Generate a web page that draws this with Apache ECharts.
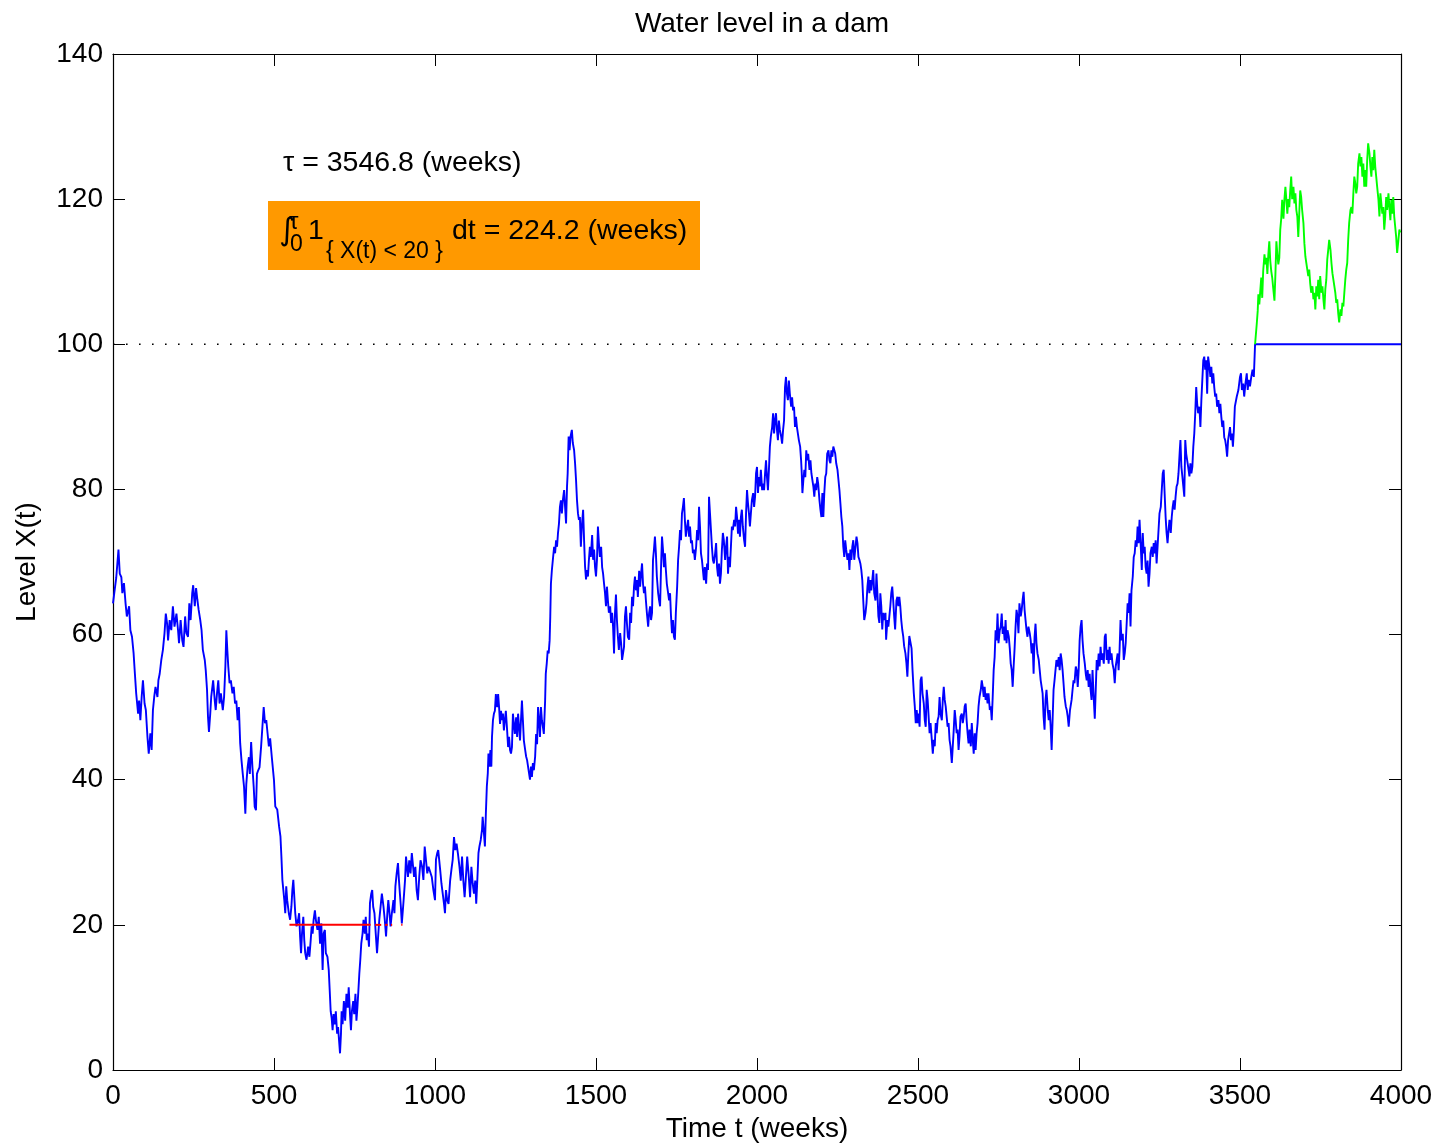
<!DOCTYPE html>
<html>
<head>
<meta charset="utf-8">
<script src="https://cdn.jsdelivr.net/npm/echarts@6/dist/echarts.min.js"></script>
<style>html,body{margin:0;padding:0;background:#fff}#c{width:1441px;height:1148px}</style>
</head>
<body>
<div id="c"></div>
<script>
// ---- data (time in weeks, level) ----
const xTicks = [0, 500, 1000, 1500, 2000, 2500, 3000, 3500, 4000];
const yTicks = [0, 20, 40, 60, 80, 100, 120, 140];
const tau = 3546.8;
const capacity = 100;
const lowLevel = 20;
const occupation = 224.2;
const redIntervals = [[548, 800], [814, 833], [845, 853], [863, 867], [895, 899]];

const walkA = [[0,64.3],[5,66.1],[10,67.8],[17,71.7],[21,68.4],[26,67.9],[29,65.7],[34,67.1],[39,64.3],[43,62.5],[50,63.9],[54,60.6],[59,59.7],[64,57.4],[68,54.6],[72,51.9],[78,49.1],[81,50.9],[85,48.2],[89,51.4],[93,53.7],[98,50.5],[102,49.6],[107,45.9],[111,43.6],[116,46.4],[120,44.1],[124,49.6],[128,51.4],[132,52.8],[138,51.4],[141,53.7],[145,54.6],[150,56.5],[155,57.9],[160,60.2],[164,62.9],[168,61.5],[171,59.2],[176,62.0],[181,60.6],[186,63.9],[191,61.1],[197,62.9],[202,60.6],[205,58.8],[210,62.0],[215,59.2],[219,58.3],[224,62.5],[228,60.2],[233,59.7],[237,64.3],[241,62.0],[246,65.7],[249,66.8],[254,63.9],[258,66.4],[262,64.8],[266,63.4],[271,62.0],[275,60.6],[279,57.9],[285,56.5],[288,55.1],[292,52.4],[295,48.7],[298,46.6],[302,49.1],[305,51.4],[311,53.7],[316,50.9],[319,49.6],[323,51.9],[327,53.7],[331,50.5],[335,51.9],[341,49.6],[345,51.4],[349,55.6],[352,60.6],[355,57.9],[358,55.6],[362,53.3],[366,53.7],[371,51.9],[375,52.8],[379,50.5],[383,50.9],[387,48.2],[391,50.0],[395,45.0],[399,42.7],[403,40.8],[407,39.0],[411,35.3],[414,39.4],[418,41.7],[422,43.1],[425,40.8],[429,45.2],[433,41.7],[437,39.0],[440,36.3],[444,35.8],[447,40.8],[451,41.3],[455,41.7],[460,44.6],[464,47.3],[468,50.0],[472,47.8],[476,48.2],[480,46.4],[484,44.6]];

const walkB = [[488,45.7],[493,43.2],[500,39.9],[504,36.3],[510,35.9],[516,33.5],[520,32.2],[523,29.4],[526,26.2],[529,24.8],[532,23.4],[535,21.6],[538,25.3],[541,23.4],[546,21.6],[550,20.7],[554,22.5],[557,24.8],[560,26.2],[563,23.9],[566,21.6],[570,19.8],[575,20.7],[578,21.6],[581,18.4],[584,16.1],[587,18.8],[591,21.1],[594,17.9],[597,16.1],[601,15.2],[606,17.0],[610,15.6],[614,17.9],[617,19.8],[620,18.8],[623,20.7],[627,22.0],[630,20.7],[635,19.3],[639,21.1],[643,17.4],[647,20.2],[651,13.8],[654,18.8],[658,19.3],[661,16.1],[666,15.6],[670,13.8],[673,11.0],[676,8.1],[679,7.2],[682,5.5],[685,7.7],[689,6.3],[692,8.1],[696,5.0],[699,5.9],[702,4.1],[705,2.3],[708,5.0],[710,8.1],[713,6.3],[717,9.5],[721,6.8],[725,10.5],[729,8.6],[732,11.4],[736,7.7],[739,5.5],[742,8.1],[746,9.5],[749,7.7],[753,10.5],[756,6.8],[759,8.6],[762,10.9],[765,13.3],[768,15.2],[771,17.4],[775,18.8],[778,20.7],[782,18.8],[785,21.1],[788,17.9],[792,18.8],[795,17.0],[798,23.0],[802,24.3],[805,24.8],[808,22.5],[812,21.6],[816,18.8],[820,16.1],[824,18.8],[827,20.7],[831,22.5],[835,24.3],[840,22.5],[844,20.7],[848,18.4],[852,21.6],[855,23.4],[858,22.0],[862,19.8],[866,21.6],[871,23.4],[874,21.6],[877,25.3],[881,27.1],[885,28.5],[888,26.2],[891,24.3],[894,22.5],[897,20.2],[901,22.5],[904,24.3],[907,26.2],[910,29.4],[913,28.0],[916,26.6],[920,28.9],[924,27.1],[928,29.9],[932,28.0],[935,26.6],[939,28.0],[943,24.8],[947,23.4],[951,26.6],[955,28.9],[960,28.0],[964,26.2],[968,30.8],[972,28.9],[976,27.1],[980,28.0]];

const walkC = [[990,26.6],[995,24.8],[1000,23.4],[1003,29.0],[1007,29.9],[1010,30.3],[1016,27.6],[1020,25.7],[1024,24.3],[1028,22.9],[1031,21.6],[1034,24.8],[1038,23.4],[1042,22.9],[1047,26.1],[1051,27.6],[1055,29.0],[1059,32.1],[1063,30.3],[1067,31.2],[1071,29.9],[1076,28.0],[1080,26.1],[1084,29.4],[1088,26.1],[1092,23.8],[1096,26.6],[1100,29.4],[1105,26.6],[1109,23.8],[1113,28.0],[1117,25.7],[1121,24.3],[1125,26.1],[1128,22.9],[1131,25.7],[1135,29.9],[1138,30.8],[1142,31.7],[1146,33.1],[1148,34.9],[1152,32.6],[1155,30.8],[1158,35.4],[1161,39.1],[1164,40.9],[1166,43.6],[1169,41.8],[1172,44.1],[1175,41.8],[1177,45.9],[1180,48.2],[1183,49.1],[1186,49.5],[1189,51.8],[1193,50.0],[1196,51.8],[1199,50.0],[1202,47.7],[1205,49.5],[1208,48.2],[1211,49.1],[1214,46.8],[1217,48.2],[1220,49.5],[1224,46.8],[1227,44.5],[1230,45.9],[1233,44.1],[1236,43.6],[1239,44.5],[1242,49.1],[1245,47.7],[1248,46.3],[1252,48.6],[1255,45.9],[1258,49.1],[1261,47.3],[1264,45.4],[1267,48.2],[1270,50.9],[1273,48.2],[1276,45.4],[1280,44.1],[1283,43.2],[1286,42.7],[1289,41.8],[1292,40.9],[1295,40.0],[1298,41.8],[1301,40.4],[1304,42.3],[1307,41.3],[1311,43.2],[1314,46.3],[1317,44.9],[1320,50.0],[1323,48.2],[1326,45.9],[1329,50.0],[1332,48.2],[1335,47.3],[1338,46.3],[1342,50.9],[1344,54.6],[1347,56.0],[1350,57.8],[1353,57.4],[1356,59.2],[1358,62.5],[1360,67.0],[1363,68.9],[1366,70.3],[1370,72.1],[1373,71.2],[1376,73.0],[1379,72.1],[1382,74.0],[1385,75.3],[1388,77.6],[1391,78.5],[1394,76.7],[1397,78.5],[1401,79.9],[1404,77.6],[1407,75.3],[1410,80.4],[1412,82.2],[1415,87.3],[1418,85.4],[1421,87.3],[1425,88.2],[1428,86.4],[1432,85.4],[1435,83.6],[1438,81.3],[1441,78.5],[1444,76.7],[1447,75.8],[1450,76.2],[1453,72.1],[1456,74.9],[1460,77.2],[1463,73.0],[1466,69.4],[1469,67.6],[1472,68.9],[1475,68.0],[1478,70.3]];

const walkD = [[1481,72.1],[1484,70.7],[1488,73.7],[1491,70.3],[1494,71.7],[1497,69.3],[1500,68.0],[1503,70.3],[1506,74.9],[1509,72.6],[1512,70.7],[1516,72.1],[1519,69.3],[1522,68.4],[1525,67.0],[1528,65.7],[1531,63.9],[1534,66.6],[1537,64.7],[1540,63.0],[1544,63.9],[1547,61.6],[1550,63.0],[1553,61.1],[1556,57.4],[1559,63.0],[1562,65.5],[1565,62.0],[1568,59.7],[1571,57.9],[1575,60.2],[1578,58.8],[1581,56.5],[1584,56.5],[1587,58.3],[1590,62.5],[1593,63.9],[1596,61.6],[1599,59.7],[1603,59.3],[1606,63.0],[1609,61.6],[1612,65.2],[1615,63.9],[1618,66.6],[1621,68.0],[1624,66.1],[1627,67.5],[1630,65.2],[1634,68.8],[1637,66.6],[1640,68.4],[1643,69.8],[1646,67.0],[1649,65.7],[1652,66.6],[1655,64.7],[1658,63.0],[1662,61.1],[1665,63.0],[1668,63.9],[1671,62.0],[1674,63.0],[1677,70.3],[1680,71.7],[1683,73.5],[1686,71.2],[1689,68.0],[1693,65.7],[1696,64.7],[1699,63.9],[1702,69.3],[1705,73.5],[1708,71.7],[1711,69.3],[1714,71.2],[1717,68.9],[1720,67.0],[1724,65.7],[1727,64.7],[1730,65.7],[1733,62.5],[1736,60.2],[1739,62.0],[1742,59.7],[1745,59.3],[1748,63.0],[1752,66.6],[1755,70.3],[1758,72.1],[1761,74.4],[1764,73.0],[1767,76.7],[1770,77.6],[1773,78.8],[1776,75.8],[1779,73.5],[1783,74.9],[1786,75.8],[1789,73.5],[1792,74.9],[1795,72.6],[1798,73.0],[1801,71.2],[1804,71.7],[1807,70.3],[1811,72.1],[1814,74.4],[1817,73.0],[1820,77.6],[1823,74.9],[1826,71.2],[1829,70.3],[1832,68.9],[1835,67.5],[1838,69.3],[1842,67.0],[1845,69.8],[1848,68.9],[1851,79.0],[1854,76.7],[1857,74.4],[1860,72.1],[1863,70.3],[1866,69.8],[1870,71.2],[1873,72.6],[1876,69.3],[1879,68.0],[1882,69.8],[1885,67.0],[1888,68.4],[1891,71.7],[1894,74.0],[1897,73.0],[1901,70.3],[1904,72.1],[1907,73.5],[1910,68.4],[1913,70.7],[1916,69.3],[1919,72.1],[1922,74.9],[1925,74.4],[1929,75.8],[1932,74.9],[1935,77.6],[1938,76.2],[1941,73.9],[1944,75.8],[1947,73.5],[1950,76.2],[1953,77.2],[1956,74.9],[1960,73.0],[1963,72.1],[1966,76.7],[1969,79.9],[1972,78.1],[1975,76.7]];

const walkE = [[1978,74.9],[1981,76.7],[1984,78.5],[1988,79.5],[1991,77.6],[1994,79.0],[1997,82.2],[2000,83.1],[2003,79.5],[2006,81.7],[2009,80.4],[2012,82.7],[2016,79.9],[2019,80.8],[2022,79.9],[2025,82.2],[2028,84.0],[2031,81.7],[2034,79.9],[2037,82.7],[2040,85.9],[2043,87.3],[2047,88.6],[2050,90.5],[2053,87.7],[2056,89.5],[2059,90.5],[2062,88.2],[2065,86.8],[2068,89.5],[2071,88.2],[2075,87.3],[2078,86.3],[2081,88.2],[2084,89.5],[2087,94.1],[2090,95.5],[2093,93.2],[2096,92.3],[2099,95.0],[2102,93.2],[2106,91.4],[2109,92.7],[2112,90.9],[2115,91.4],[2118,88.6],[2121,90.0],[2124,88.6],[2127,87.7],[2130,86.8],[2134,85.9],[2137,84.0],[2139,82.2],[2141,79.5],[2144,81.3],[2147,82.7],[2150,81.7],[2153,85.4],[2156,84.0],[2159,84.9],[2163,82.7],[2166,84.0],[2169,82.2],[2172,81.3],[2175,80.4],[2178,79.0],[2181,80.8],[2184,79.9],[2187,81.7],[2190,80.8],[2194,78.5],[2197,77.2],[2200,76.2],[2203,79.5],[2206,76.2],[2209,79.5],[2212,81.7],[2215,82.2],[2218,84.9],[2222,85.4],[2225,84.0],[2228,83.6],[2231,85.4],[2234,84.5],[2237,85.9],[2240,86.1],[2243,84.9],[2246,83.6],[2250,82.7],[2253,81.3],[2256,79.9],[2259,78.1],[2262,76.2],[2265,74.9],[2268,72.1],[2271,70.7],[2274,73.0],[2277,71.7],[2281,70.3],[2284,71.2],[2287,68.9],[2290,71.7],[2293,70.3],[2296,72.1],[2299,73.0],[2302,70.3],[2305,71.7],[2309,73.5],[2312,72.6],[2315,70.7],[2318,70.3],[2321,69.8],[2324,68.9],[2327,67.5],[2330,64.7],[2333,62.0],[2337,63.0],[2340,64.3],[2343,66.6],[2346,68.0],[2349,65.7],[2352,67.5],[2355,66.1],[2358,67.5],[2361,68.9],[2364,65.7],[2368,64.7],[2371,68.4],[2374,65.7],[2377,62.5],[2380,61.6],[2383,65.7],[2386,63.9],[2389,60.7],[2392,63.0],[2396,62.0],[2399,63.0],[2401,59.3],[2405,62.0],[2408,61.1],[2411,62.5],[2414,63.9],[2417,65.7],[2420,66.6],[2423,64.7],[2426,62.5],[2429,60.7],[2433,64.7],[2436,65.2],[2439,63.9],[2442,65.2],[2445,63.9],[2448,62.0],[2451,60.7],[2454,59.8],[2457,58.4],[2461,57.4],[2464,56.1],[2467,54.2],[2470,57.4],[2473,59.8]];

const walkF = [[2480,58.1],[2483,55.1],[2487,51.9],[2490,50.1],[2493,47.8],[2496,49.6],[2499,47.8],[2502,49.1],[2505,47.3],[2508,53.7],[2511,54.2],[2514,51.9],[2518,50.5],[2521,48.2],[2524,47.3],[2527,52.4],[2530,51.0],[2533,48.7],[2536,46.4],[2539,47.8],[2542,46.0],[2546,43.6],[2549,45.5],[2552,44.6],[2555,47.8],[2558,46.4],[2561,48.2],[2564,48.7],[2567,51.4],[2570,49.1],[2574,48.2],[2577,51.0],[2580,52.8],[2583,51.0],[2586,50.1],[2589,48.7],[2592,47.3],[2595,47.8],[2598,45.5],[2601,44.6],[2605,42.3],[2608,44.6],[2611,46.9],[2614,49.6],[2617,48.2],[2620,46.4],[2623,46.9],[2626,44.1],[2629,46.0],[2632,48.7],[2636,49.1],[2639,47.8],[2642,48.7],[2645,50.1],[2648,50.5],[2651,48.2],[2654,46.4],[2657,45.0],[2660,46.9],[2664,44.6],[2667,47.8],[2670,45.5],[2673,43.6],[2676,46.4],[2679,44.1],[2682,46.4],[2685,47.8],[2688,50.1],[2691,51.4],[2695,52.4],[2698,53.7],[2701,52.8],[2704,51.4],[2707,52.8],[2710,51.0],[2713,51.9],[2716,50.5],[2719,51.9],[2723,49.6],[2726,50.1],[2729,48.2],[2732,51.4],[2735,55.1],[2738,56.9],[2741,60.6],[2744,59.2],[2747,62.9],[2750,58.8],[2754,60.6],[2757,61.1],[2760,62.9],[2763,60.1],[2766,61.1],[2769,59.2],[2772,62.0],[2775,58.8],[2778,60.6],[2782,59.7],[2785,58.1],[2788,56.0],[2791,55.1],[2794,52.8],[2797,55.6],[2800,58.1],[2803,61.1],[2806,63.4],[2809,62.5],[2812,60.2],[2815,64.3],[2819,62.5],[2822,63.4],[2825,64.8],[2828,65.9],[2831,63.4],[2834,62.0],[2837,60.6],[2840,59.7],[2843,61.1],[2847,60.2],[2850,59.2],[2853,57.4],[2856,58.8],[2859,54.6],[2862,59.7],[2865,61.5],[2868,58.8],[2871,57.4],[2875,56.5],[2878,55.1],[2881,53.7],[2884,52.8],[2887,51.9],[2890,48.7],[2893,46.9],[2896,51.0],[2899,52.4],[2903,49.6],[2906,48.2],[2909,49.6],[2912,47.3],[2915,44.1],[2918,48.2],[2921,52.4],[2924,53.7],[2927,55.1],[2930,56.5],[2934,55.6],[2937,56.9],[2940,55.1],[2943,57.4],[2946,56.5],[2949,55.1],[2952,53.3],[2955,51.4],[2959,50.1],[2962,49.6],[2965,48.7],[2968,47.3]];

const walkG = [[2972,49.6],[2977,51.0],[2980,52.4],[2983,53.7],[2986,53.3],[2990,55.6],[2993,55.1],[2996,52.8],[2999,55.1],[3002,59.2],[3005,61.1],[3008,62.0],[3011,59.2],[3014,57.4],[3018,56.0],[3021,54.6],[3024,53.7],[3027,55.1],[3030,52.8],[3033,54.6],[3036,52.4],[3039,51.0],[3042,55.1],[3045,51.9],[3049,48.4],[3052,52.4],[3055,56.5],[3058,55.1],[3061,57.4],[3064,55.6],[3067,58.3],[3070,56.5],[3073,57.4],[3077,56.0],[3080,59.7],[3083,60.1],[3086,56.5],[3089,57.9],[3092,56.0],[3095,58.3],[3098,56.5],[3101,57.4],[3104,56.0],[3108,55.1],[3111,53.3],[3114,55.6],[3117,56.5],[3120,57.4],[3123,55.1],[3126,57.9],[3129,62.0],[3132,59.2],[3136,60.1],[3139,56.5],[3142,57.4],[3145,58.8],[3148,61.5],[3151,64.3],[3154,63.0],[3157,65.7],[3160,61.1],[3163,66.1],[3167,68.0],[3170,70.7],[3173,71.2],[3176,73.0],[3179,72.1],[3182,74.9],[3185,72.6],[3188,75.8],[3191,73.0],[3195,68.9],[3198,74.0],[3201,71.2],[3204,72.1],[3207,69.3],[3210,68.4],[3213,70.2],[3216,66.6],[3219,68.4],[3222,71.2],[3226,72.1],[3229,70.7],[3232,72.6],[3235,71.2],[3238,73.0],[3241,69.8],[3244,72.1],[3247,74.4],[3250,76.7],[3254,77.6],[3257,79.9],[3260,82.2],[3263,82.7],[3266,79.4],[3269,76.2],[3272,74.0],[3275,72.6],[3278,74.4],[3281,75.8],[3285,74.0],[3288,76.2],[3291,77.6],[3294,78.5],[3297,77.2],[3300,79.0],[3303,80.4],[3306,80.8],[3309,82.2],[3313,85.4],[3315,86.8],[3318,83.1],[3321,81.8],[3324,80.4],[3327,79.0],[3330,86.8],[3333,84.9],[3336,84.0],[3339,83.1],[3343,81.8],[3346,83.6],[3349,82.2],[3352,83.1],[3355,85.9],[3358,87.7],[3361,90.5],[3364,94.1],[3367,91.8],[3370,90.5],[3374,91.4],[3377,88.6],[3380,92.3],[3383,95.1],[3386,97.8],[3389,98.3],[3392,96.5],[3395,97.8],[3398,93.2],[3401,98.3],[3405,96.9],[3408,95.5],[3411,96.9],[3414,94.6],[3417,96.0],[3420,94.1],[3423,92.8],[3426,93.2],[3429,91.4],[3433,92.3],[3436,90.5],[3439,91.8],[3442,90.0],[3445,88.6],[3448,89.5],[3451,87.2],[3454,86.8],[3457,85.9],[3460,84.5],[3463,86.8],[3466,87.7],[3469,88.6],[3472,86.8],[3475,87.7],[3478,85.9],[3481,88.2]];

const walkH = [[3484,91.4],[3490,92.8],[3495,93.7],[3500,95.5],[3503,96.0],[3506,93.7],[3510,94.6],[3513,92.8],[3517,94.6],[3521,96.0],[3524,93.7],[3527,95.1],[3531,94.2],[3535,95.5],[3539,96.5],[3543,95.5],[3546.8,100],[4000,100]];

const overflowWalk = [[3546.8,100],[3552,102.8],[3555,104.6],[3557,106.9],[3560,105.5],[3563,107.4],[3566,109.2],[3569,106.4],[3572,110.1],[3576,112.4],[3579,111.0],[3582,111.9],[3585,109.7],[3588,112.4],[3591,114.2],[3594,111.5],[3597,110.1],[3600,109.2],[3603,107.8],[3607,106.0],[3610,109.7],[3613,114.2],[3616,112.4],[3619,111.0],[3622,111.9],[3625,115.8],[3628,117.3],[3631,119.9],[3635,117.3],[3638,120.0],[3641,121.7],[3644,119.9],[3647,118.0],[3650,120.0],[3653,118.9],[3656,121.2],[3659,123.1],[3662,120.0],[3666,121.7],[3669,119.4],[3672,120.8],[3675,118.5],[3678,117.6],[3681,114.8],[3684,118.0],[3687,121.2],[3690,120.3],[3693,118.5],[3697,116.7],[3700,113.9],[3703,112.1],[3706,111.2],[3709,110.3],[3712,109.4],[3715,110.3],[3718,108.4],[3721,107.1],[3725,108.0],[3728,106.2],[3731,107.1],[3734,104.8],[3737,108.0],[3740,106.6],[3743,108.9],[3746,106.2],[3749,109.4],[3753,107.1],[3756,108.0],[3759,106.2],[3762,104.8],[3765,107.6],[3768,108.9],[3771,111.7],[3774,113.0],[3777,114.4],[3781,113.0],[3784,111.2],[3787,109.8],[3790,108.9],[3793,108.0],[3796,107.1],[3799,105.7],[3802,106.2],[3805,104.3],[3808,103.0],[3812,104.8],[3815,103.9],[3818,105.7],[3821,105.2],[3824,107.1],[3827,108.9],[3830,110.3],[3833,111.2],[3836,114.4],[3839,116.7],[3843,118.5],[3846,118.9],[3849,118.0],[3852,120.8],[3855,123.1],[3858,122.2],[3861,120.8],[3864,121.7],[3867,124.9],[3871,126.3],[3874,124.5],[3877,125.8],[3880,123.1],[3883,124.9],[3886,121.7],[3889,124.0],[3892,121.7],[3895,125.4],[3898,127.7],[3902,126.3],[3905,124.5],[3908,123.1],[3911,125.8],[3914,124.0],[3917,126.8],[3920,124.5],[3923,123.1],[3926,121.7],[3930,119.9],[3933,117.6],[3936,120.8],[3939,119.4],[3942,118.0],[3945,118.9],[3948,115.8],[3951,117.6],[3954,120.3],[3957,118.5],[3961,120.8],[3964,118.9],[3967,117.1],[3970,119.9],[3973,118.0],[3976,120.3],[3979,117.6],[3982,116.2],[3985,114.8],[3988,112.6],[3992,114.4],[3995,115.8],[3998,115.4]];

// ---- chart ----
const FONT = "'Liberation Sans', Arial, Helvetica, sans-serif";
const chart = echarts.init(document.getElementById('c'), null, {renderer: 'canvas'});
const blueWalk = [].concat(walkA, walkB, walkC, walkD, walkE, walkF, walkG, walkH);

const axisCommon = {
  type: 'value', splitLine: {show: false},
  axisLine: {show: true, onZero: false, lineStyle: {color: '#000', width: 1.2}},
  axisTick: {show: true, inside: true, length: 12, lineStyle: {color: '#000', width: 1}}
};
const labelStyle = {color: '#000', fontSize: 28, fontFamily: FONT, formatter: v => String(v)};

const redSeries = redIntervals.map(iv => ({
  type: 'line', xAxisIndex: 0, yAxisIndex: 0, symbol: 'none', silent: true, z: 5,
  data: [[iv[0], lowLevel], [iv[1], lowLevel]],
  lineStyle: {color: '#ff0000', width: 2}
}));

function txt(x, y, text, size, family) {
  return {type: 'text', x: x, y: y, z: 100,
    style: {text: text, fontSize: size, fontFamily: family || FONT, fill: '#000',
            align: 'left', verticalAlign: 'middle', textAlign: 'left', textVerticalAlign: 'middle'}};
}

chart.setOption({
  animation: false,
  backgroundColor: '#fff',
  title: {
    text: 'Water level in a dam', left: 757, top: 5, textAlign: 'center',
    textStyle: {color: '#000', fontSize: 28, fontWeight: 'normal', fontFamily: FONT}
  },
  grid: {left: 113, right: 40, top: 54, bottom: 78, containLabel: false},
  xAxis: [
    Object.assign({}, axisCommon, {
      position: 'bottom', min: xTicks[0], max: xTicks[xTicks.length - 1], interval: 500,
      axisLabel: Object.assign({margin: 12}, labelStyle),
      name: 'Time t (weeks)', nameLocation: 'middle', nameGap: 44,
      nameTextStyle: {color: '#000', fontSize: 28, fontFamily: FONT}
    }),
    Object.assign({}, axisCommon, {
      position: 'top', min: xTicks[0], max: xTicks[xTicks.length - 1], interval: 500,
      axisLabel: {show: false}
    })
  ],
  yAxis: [
    Object.assign({}, axisCommon, {
      position: 'left', min: yTicks[0], max: yTicks[yTicks.length - 1], interval: 20,
      axisLabel: Object.assign({margin: 10}, labelStyle),
      name: 'Level X(t)', nameLocation: 'middle', nameGap: 72,
      nameTextStyle: {color: '#000', fontSize: 28, fontFamily: FONT}
    }),
    Object.assign({}, axisCommon, {
      position: 'right', min: yTicks[0], max: yTicks[yTicks.length - 1], interval: 20,
      axisLabel: {show: false}
    })
  ],
  series: [
    {
      type: 'line', symbol: 'none', silent: true, z: 2,
      data: [[0, capacity], [tau, capacity]],
      lineStyle: {color: '#000', width: 1.6, type: [1.6, 11.4]}
    },
    {
      type: 'line', symbol: 'none', silent: true, z: 3,
      data: blueWalk,
      lineStyle: {color: '#0000ff', width: 1.9}
    },
    {
      type: 'line', symbol: 'none', silent: true, z: 3,
      data: overflowWalk,
      lineStyle: {color: '#00ff00', width: 1.9}
    }
  ].concat(redSeries),
  graphic: [
    txt(283, 163, 'τ = ' + tau.toFixed(1) + ' (weeks)', 28.5),
    {type: 'rect', z: 99, shape: {x: 268, y: 201, width: 432, height: 69}, style: {fill: '#ff9900'}},
    txt(279, 232, '∫', 31, "'DejaVu Sans', sans-serif"),
    txt(289, 222, 'τ', 24),
    txt(290, 245, '0', 23),
    txt(308, 231, '1', 28.5),
    txt(326, 252, '{ X(t) < ' + lowLevel + ' }', 23),
    txt(452, 231, 'dt = ' + occupation.toFixed(1) + ' (weeks)', 28.5)
  ]
});
</script>
</body>
</html>
